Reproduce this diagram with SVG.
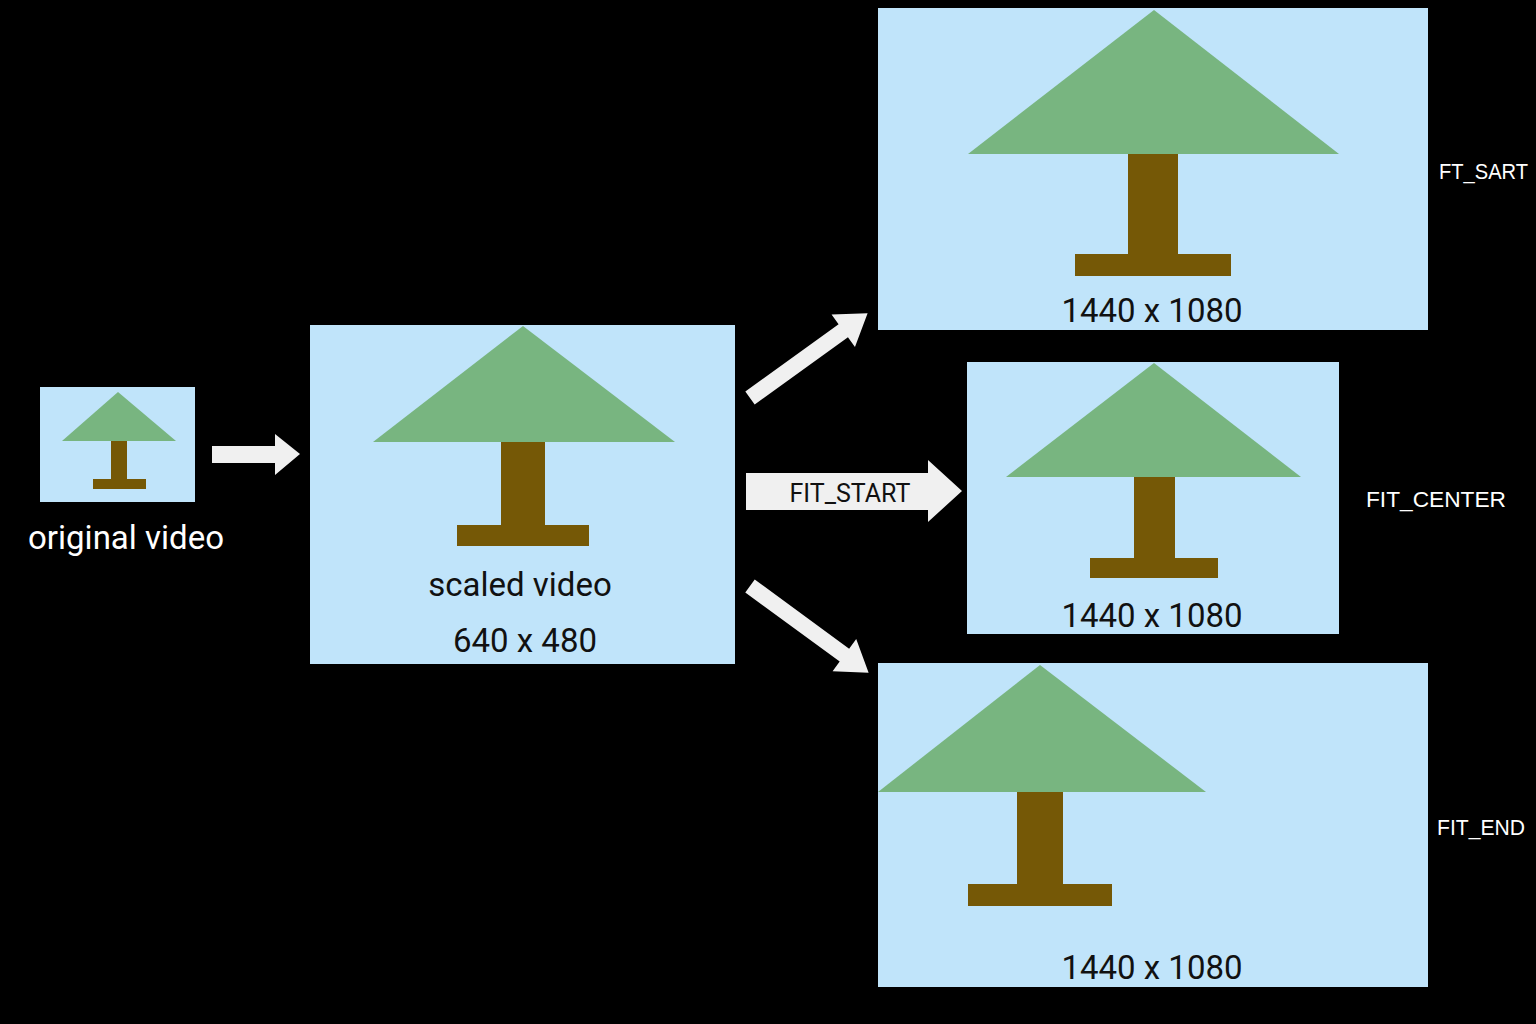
<svg xmlns="http://www.w3.org/2000/svg" width="1536" height="1024" viewBox="0 0 1536 1024">
<style>
.box{fill:#C0E4FA}
.leaf{fill:#78B580}
.wood{fill:#755806}
.arrow{fill:#F0F0F0}
.dim{font-family:Roboto,"Noto Sans",sans-serif;font-size:33px;fill:#111;text-anchor:middle}
.wl{font-family:Roboto,"Noto Sans",sans-serif;font-size:33px;fill:#fff;text-anchor:middle}
.side{font-family:"Liberation Sans",Arial,sans-serif;font-size:22px;fill:#fff}
</style>
<rect width="1536" height="1024" fill="#000"/>
<g id="original">
<rect class="box" x="40" y="387" width="155" height="115"/>
<polygon class="leaf" points="118,392 62,441 176,441"/>
<rect class="wood" x="111" y="441" width="16" height="40"/>
<rect class="wood" x="93" y="479" width="53" height="10"/>
<text class="wl" x="126" y="549">original video</text>
</g>
<g id="scaled">
<rect class="box" x="310" y="325" width="425" height="339"/>
<polygon class="leaf" points="523,326 373,442 675,442"/>
<rect class="wood" x="501" y="442" width="44" height="84"/>
<rect class="wood" x="457" y="525" width="132" height="21"/>
<text class="dim" x="520" y="596" font-size="32">scaled video</text>
<text class="dim" x="525" y="652" font-size="32">640 x 480</text>
</g>
<g id="fit-start">
<rect class="box" x="878" y="8" width="550" height="322"/>
<polygon class="leaf" points="1154,10 968,154 1339,154"/>
<rect class="wood" x="1128" y="154" width="50" height="101"/>
<rect class="wood" x="1075" y="254" width="156" height="22"/>
<text class="dim" x="1152" y="322">1440 x 1080</text>
<text class="side" x="1439" y="179" textLength="89" lengthAdjust="spacingAndGlyphs">FT_SART</text>
</g>
<g id="fit-center">
<rect class="box" x="967" y="362" width="372" height="272"/>
<polygon class="leaf" points="1154,363 1006,477 1301,477"/>
<rect class="wood" x="1134" y="477" width="41" height="82"/>
<rect class="wood" x="1090" y="558" width="128" height="20"/>
<text class="dim" x="1152" y="627">1440 x 1080</text>
<text class="side" x="1366" y="507" textLength="140" lengthAdjust="spacingAndGlyphs">FIT_CENTER</text>
</g>
<g id="fit-end">
<rect class="box" x="878" y="663" width="550" height="324"/>
<polygon class="leaf" points="1040,665 878,792 1206,792"/>
<rect class="wood" x="1017" y="792" width="46" height="93"/>
<rect class="wood" x="968" y="884" width="144" height="22"/>
<text class="dim" x="1152" y="979">1440 x 1080</text>
<text class="side" x="1437" y="835" textLength="88" lengthAdjust="spacingAndGlyphs">FIT_END</text>
</g>
<g id="connectors">
<polygon class="arrow" points="212,446 275,446 275,434 300,454 275,475 275,463 212,463"/>
<polygon class="arrow" transform="translate(750,398) rotate(-35.8)" points="0,-8 115,-8 115,-20 145,0 115,20 115,8 0,8"/>
<polygon class="arrow" transform="translate(750,586) rotate(36.2)" points="0,-8 117,-8 117,-20 147,0 117,20 117,8 0,8"/>
<polygon class="arrow" points="746,473 928,473 928,460 962,491 928,522 928,510 746,510"/>
<text x="850" y="502" font-family="Roboto,'Noto Sans',sans-serif" font-size="25" fill="#111" text-anchor="middle">FIT_START</text>
</g>
</svg>
